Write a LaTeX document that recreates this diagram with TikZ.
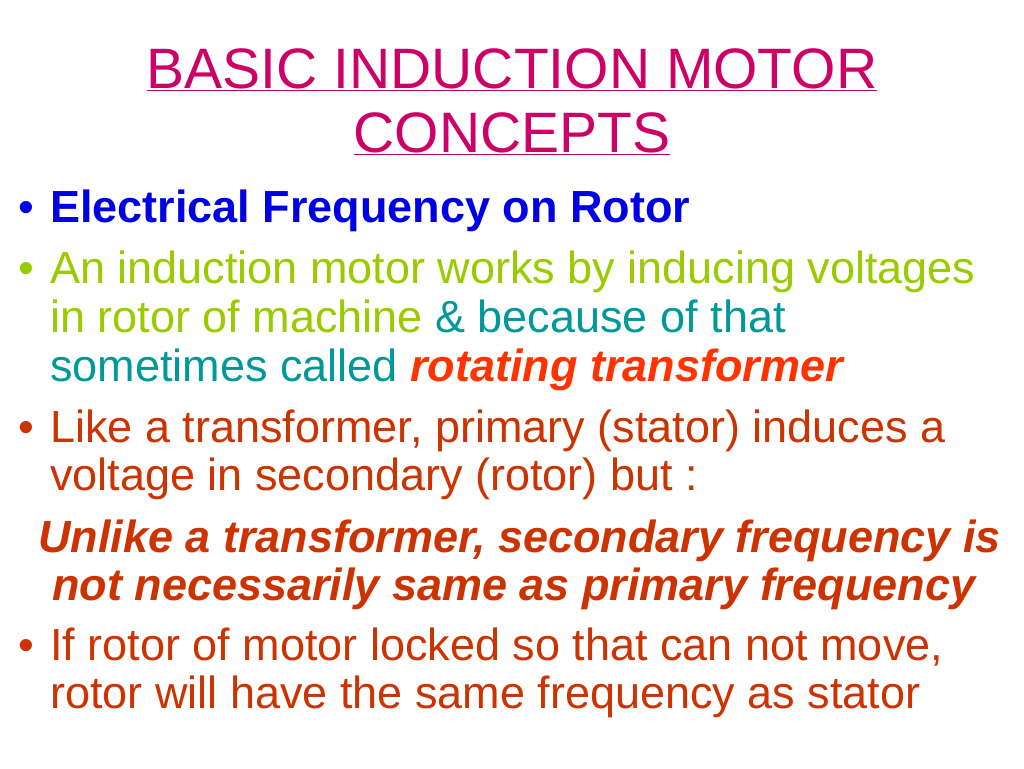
\documentclass[tikz,border=0pt]{standalone}
\usepackage{fontspec}
\setmainfont{Liberation Sans}
\usetikzlibrary{positioning}
\definecolor{titlepink}{RGB}{204,0,102}
\definecolor{headblue}{RGB}{0,0,230}
\definecolor{limegreen}{RGB}{153,204,0}
\definecolor{tealtext}{RGB}{0,153,153}
\definecolor{hotred}{RGB}{255,51,0}
\definecolor{rusttext}{RGB}{204,51,0}
\begin{document}
\begin{tikzpicture}[x=1pt,y=1pt]
	\tikzset{
		line/.style={anchor=base west, inner sep=0pt, font=\fontsize{45}{48}\selectfont},
		titleline/.style={anchor=base, inner sep=0pt, font=\fontsize{57}{60}\selectfont, text=titlepink},
		dot/.style={anchor=base west, inner sep=0pt, font=\fontsize{45}{48}\selectfont}
	}
	\useasboundingbox[fill=white] (0,0) rectangle (1024,-768);
	% title
	\node[titleline] (title1) at (512,-88) {\underline{BASIC INDUCTION MOTOR}};
	\node[titleline] (title2) at (512,-152) {\underline{CONCEPTS}};
	% bullets
	\node[dot, text=headblue] (b1) at (18,-222) {\textbullet};
	\node[line, text=headblue] (l1) at (50,-222) {\textbf{Electrical Frequency on Rotor}};
	\node[dot, text=limegreen] (b2) at (18,-283) {\textbullet};
	\node[line, text=limegreen] (l2) at (50,-283) {An induction motor works by inducing voltages};
	\node[line, text=limegreen] (l3) at (50,-332) {in rotor of machine \textcolor{tealtext}{\& because of that}};
	\node[line, text=tealtext] (l4) at (50,-381) {sometimes called \textcolor{hotred}{\textbf{\textit{rotating transformer}}}};
	\node[dot, text=rusttext] (b3) at (18,-442) {\textbullet};
	\node[line, text=rusttext] (l5) at (50,-442) {Like a transformer, primary (stator) induces a};
	\node[line, text=rusttext] (l6) at (50,-490) {voltage in secondary (rotor) but :};
	\node[line, text=rusttext] (l7) at (38,-552) {\textbf{\textit{Unlike a transformer, secondary frequency is}}};
	\node[line, text=rusttext] (l8) at (52,-600) {\textbf{\textit{not necessarily same as primary frequency}}};
	\node[dot, text=rusttext] (b4) at (18,-660) {\textbullet};
	\node[line, text=rusttext] (l9) at (50,-660) {If rotor of motor locked so that can not move,};
	\node[line, text=rusttext] (l10) at (50,-708) {rotor will have the same frequency as stator};
\end{tikzpicture}
\end{document}
